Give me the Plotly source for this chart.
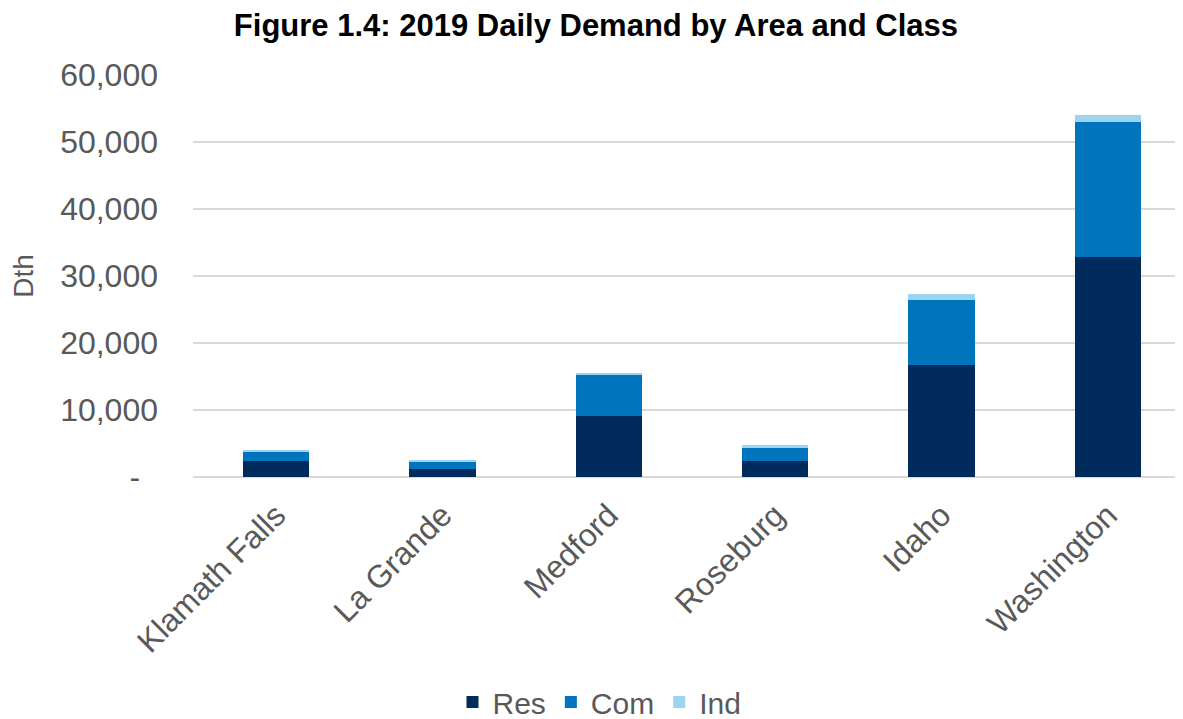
import plotly.graph_objects as go

areas = ["Klamath Falls", "La Grande", "Medford", "Roseburg", "Idaho", "Washington"]
res = [2400, 1250, 9150, 2430, 16750, 32900]
com = [1350, 950, 6200, 1940, 9600, 20050]
ind = [350, 350, 200, 360, 1000, 1050]

ytick_vals = [0, 10000, 20000, 30000, 40000, 50000, 60000]
ytick_text = ["-\u00a0\u00a0", "10,000", "20,000", "30,000", "40,000", "50,000", "60,000"]

colors = {"Res": "#002B5C", "Com": "#0075BE", "Ind": "#9DD4F2"}
font_family = "Liberation Sans, Arial, sans-serif"
gray = "#595959"

fig = go.Figure()
for name, vals in [("Res", res), ("Com", com), ("Ind", ind)]:
    fig.add_trace(go.Bar(x=areas, y=vals, name=name, marker_color=colors[name],
                         marker_line_width=0))

fig.update_layout(
    barmode="stack",
    bargap=0.6,
    width=1183, height=719,
    paper_bgcolor="white", plot_bgcolor="white",
    margin=dict(l=185, r=0, t=67, b=250, autoexpand=False),
    font=dict(family=font_family, color=gray, size=30),
    title=dict(text="<b>Figure 1.4: 2019 Daily Demand by Area and Class</b>",
               x=0.497, xanchor="center", y=1 - 17 / 719, yanchor="middle",
               font=dict(family=font_family, size=31, color="black")),
    legend=dict(orientation="h", xref="container", x=0.5, xanchor="center",
                yref="container", y=1 - 694 / 719, yanchor="middle",
                font=dict(size=30, color=gray), traceorder="normal"),
    showlegend=True,
)
fig.update_xaxes(range=[-0.5, 5.5], tickangle=-45, showgrid=False, showline=False,
                 ticklabelstandoff=12, tickfont=dict(size=32, color=gray))
fig.update_yaxes(range=[0, 60000], tickvals=ytick_vals, ticktext=ytick_text,
                 showgrid=True, gridcolor="#D9D9D9", gridwidth=2,
                 zeroline=True, zerolinecolor="#D9D9D9", zerolinewidth=2,
                 ticklabelstandoff=34, tickfont=dict(size=32, color=gray),
                 title=dict(text="Dth", font=dict(size=28, color=gray), standoff=32))

fig.write_html("out.html")
